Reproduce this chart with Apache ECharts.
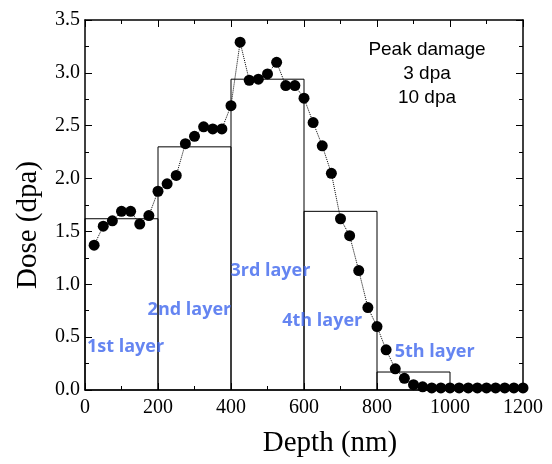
<!DOCTYPE html>
<html>
<head>
<meta charset="utf-8">
<script src="https://cdn.jsdelivr.net/npm/echarts@6/dist/echarts.min.js"></script>
<style>html,body{margin:0;padding:0;background:#fff}#c{width:552px;height:464px}</style>
</head>
<body>
<div id="c"></div>
<script>
// Measured dose profile
var depth = [25,50,75,100,125,150,175,200,225,250,275,300,325,350,375,400,425,450,475,500,525,550,575,600,625,650,675,700,725,750,775,800,825,850,875,900,925,950,975,1000,1025,1050,1075,1100,1125,1150,1175,1200];
var dose = [1.37,1.55,1.60,1.69,1.69,1.57,1.65,1.88,1.95,2.03,2.33,2.40,2.49,2.47,2.47,2.69,3.29,2.93,2.94,2.99,3.10,2.88,2.88,2.76,2.53,2.31,2.05,1.62,1.46,1.13,0.78,0.60,0.38,0.20,0.11,0.05,0.03,0.02,0.02,0.02,0.02,0.02,0.02,0.02,0.02,0.02,0.02,0.02];

// Layer approximation
var layerStart = [0,200,400,600,800];
var layerEnd = [200,400,600,800,1000];
var layerDose = [1.62,2.30,2.94,1.69,0.17];

// Layer labels
var layerNames = ['1st layer','2nd layer','3rd layer','4th layer','5th layer'];
var layerLabelX = [111,286,508,650,958];
var layerLabelY = [0.41,0.76,1.13,0.65,0.36];

var xTicks = [0,200,400,600,800,1000,1200];
var yTicks = [0,0.5,1,1.5,2,2.5,3,3.5];

var pts = depth.map(function(d,i){return [d,dose[i]];});
var layers = layerStart.map(function(s,i){return [s,layerEnd[i],layerDose[i]];});
var labels = layerNames.map(function(n,i){return {value:[layerLabelX[i],layerLabelY[i]],name:n};});

var serif = '"Liberation Serif","DejaVu Serif",serif';
function axisCommon(){
  return {
    axisLine:{show:true,onZero:false,lineStyle:{color:'#000',width:1.5}},
    axisTick:{show:true,inside:true,length:7,lineStyle:{color:'#000',width:1}},
    minorTick:{show:true,splitNumber:2,length:4,lineStyle:{color:'#000',width:1}},
    splitLine:{show:false}
  };
}

var chart = echarts.init(document.getElementById('c'));
chart.setOption({
  animation:false,
  backgroundColor:'#fff',
  grid:{left:85,right:29,top:20,bottom:74},
  xAxis:[
    Object.assign({type:'value',min:xTicks[0],max:xTicks[xTicks.length-1],interval:200,position:'bottom',
      axisLabel:{fontFamily:serif,fontSize:20,color:'#000',margin:8,formatter:function(v){return String(v);}}},axisCommon()),
    Object.assign({type:'value',min:0,max:1200,interval:200,position:'top',axisLabel:{show:false}},axisCommon())
  ],
  yAxis:[
    Object.assign({type:'value',min:yTicks[0],max:yTicks[yTicks.length-1],interval:0.5,position:'left',
      axisLabel:{fontFamily:serif,fontSize:20,color:'#000',margin:5,formatter:function(v){return v.toFixed(1);}}},axisCommon()),
    Object.assign({type:'value',min:0,max:3.5,interval:0.5,position:'right',axisLabel:{show:false}},axisCommon())
  ],
  series:[
    {
      type:'custom',
      xAxisIndex:0,yAxisIndex:0,
      data:layers,
      renderItem:function(params,api){
        var p0 = api.coord([api.value(0),api.value(2)]);
        var p1 = api.coord([api.value(1),0]);
        return {type:'rect',shape:{x:p0[0],y:p0[1],width:p1[0]-p0[0],height:p1[1]-p0[1]},
          style:{fill:null,stroke:'#000',lineWidth:1}};
      },
      z:2
    },
    {
      type:'line',
      data:pts,
      symbol:'circle',
      symbolSize:11,
      itemStyle:{color:'#000'},
      lineStyle:{color:'#000',width:1,type:'dotted'},
      z:3
    },
    {
      type:'scatter',
      data:labels,
      symbolSize:0,
      label:{show:true,position:'inside',formatter:'{b}',
        fontFamily:'"Open Sans",sans-serif',fontWeight:'bold',fontSize:18,color:'#3F66EE'},
      z:4
    }
  ],
  graphic:[
    {type:'text',x:330,y:443,style:{text:'Depth (nm)',fontFamily:serif,fontSize:29,align:'center',verticalAlign:'middle',fill:'#000'}},
    {type:'text',x:28,y:225,rotation:Math.PI/2,style:{text:'Dose (dpa)',fontFamily:serif,fontSize:29,align:'center',verticalAlign:'middle',fill:'#000'}},
    {type:'text',x:427,y:38,style:{text:'Peak damage\n3 dpa\n10 dpa',fontFamily:'"Liberation Sans",Arial,sans-serif',fontSize:19,lineHeight:24,align:'center',fill:'#000'}}
  ]
});
</script>
</body>
</html>
